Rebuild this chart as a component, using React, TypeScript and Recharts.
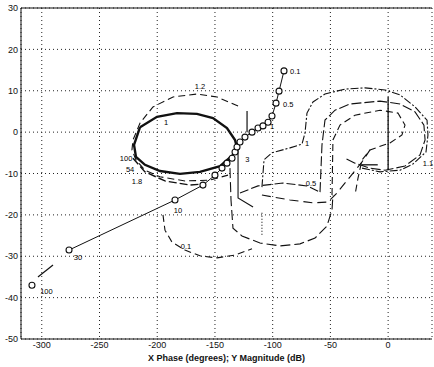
import { LineChart, Line, XAxis, YAxis, CartesianGrid, ReferenceLine, ReferenceDot } from "recharts";

// open-loop frequency response (phase deg, magnitude dB)
const mainStart = [{ x: -308.5, y: -37 }];
const mainStub = [
  { x: -303.3, y: -35 },
  { x: -290.3, y: -32.1 },
];
const mainCurve = [
  { x: -276.4, y: -28.5 },
  { x: -184.6, y: -16.4 },
  { x: -160.4, y: -12.8 },
  { x: -150, y: -10.4 },
  { x: -143.9, y: -8.7 },
  { x: -139.6, y: -7.5 },
  { x: -135.2, y: -6.3 },
  { x: -132.6, y: -4.8 },
  { x: -130.9, y: -3.6 },
  { x: -128.3, y: -2.4 },
  { x: -124, y: -1.2 },
  { x: -117.9, y: 0 },
  { x: -112.7, y: 1 },
  { x: -108.4, y: 1.5 },
  { x: -104, y: 2.4 },
  { x: -100.6, y: 3.9 },
  { x: -97.1, y: 7 },
  { x: -94.5, y: 9.9 },
  { x: -90.2, y: 14.8 },
];

// contour "1.2"
const gain12 = [
  { x: -130, y: 6.3 },
  { x: -148.2, y: 8.5 },
  { x: -165.6, y: 9.2 },
  { x: -186.3, y: 8.5 },
  { x: -203.7, y: 6.1 },
  { x: -214.9, y: 2.2 },
  { x: -221, y: -1.9 },
  { x: -221.9, y: -4.3 },
  { x: -218.4, y: -6.7 },
  { x: -210.6, y: -9.2 },
  { x: -197.6, y: -10.8 },
  { x: -176, y: -11.8 },
  { x: -154.3, y: -11.6 },
  { x: -138.7, y: -10.4 },
];

// contour "1" (thick)
const gain1 = [
  { x: -214.9, y: 1.2 },
  { x: -200.2, y: 3.7 },
  { x: -182.9, y: 4.6 },
  { x: -165.6, y: 4.4 },
  { x: -151.7, y: 3.4 },
  { x: -139.6, y: 1.0 },
  { x: -132.6, y: -1.9 },
  { x: -130.9, y: -3.8 },
  { x: -134.4, y: -5.5 },
  { x: -145.6, y: -8.2 },
  { x: -163, y: -9.6 },
  { x: -180.3, y: -10.1 },
  { x: -197.6, y: -9.4 },
  { x: -210.6, y: -7.9 },
  { x: -218.4, y: -6 },
  { x: -220.1, y: -3.1 },
  { x: -214.9, y: 1.2 },
];

const lowerLeft = [
  { x: -221, y: -6.3 },
  { x: -210.6, y: -9.6 },
  { x: -193.3, y: -11.8 },
  { x: -171.6, y: -12.8 },
  { x: -158.6, y: -12.5 },
];

// contour "0.1"
const gain01 = [
  { x: -195, y: -20 },
  { x: -193.3, y: -23.7 },
  { x: -187.2, y: -26.6 },
  { x: -176, y: -28.5 },
  { x: -163, y: -29.9 },
  { x: -148.2, y: -30.4 },
  { x: -132.6, y: -29.7 },
  { x: -117.9, y: -28.2 },
];

const dropLine = [
  { x: -130, y: -4.3 },
  { x: -130, y: -15.9 },
  { x: -117, y: -18.1 },
];

const lowLoop = [
  { x: -137, y: -8.7 },
  { x: -136.1, y: -16.4 },
  { x: -134.4, y: -23.2 },
  { x: -126.6, y: -25.1 },
  { x: -111, y: -26.8 },
  { x: -93.7, y: -27.5 },
  { x: -76.3, y: -27 },
  { x: -63.3, y: -25.6 },
  { x: -53, y: -22.7 },
  { x: -48.6, y: -18.8 },
  { x: -47.8, y: -15.2 },
];

// contour "0.5"
const gain05Top = [
  { x: -128.3, y: -14.7 },
  { x: -112.7, y: -13 },
  { x: -91.1, y: -12.3 },
  { x: -70.3, y: -13 },
  { x: -59, y: -14.5 },
];
const gain05Low = [
  { x: -109.3, y: -15.2 },
  { x: -85, y: -16.4 },
  { x: -65.1, y: -17.1 },
  { x: -52.1, y: -16.9 },
  { x: -44.3, y: -14.7 },
  { x: -33, y: -10.8 },
  { x: -22.6, y: -7.2 },
  { x: -15.7, y: -4.3 },
];

// right side loops
const rightOuter = [
  { x: -109.3, y: -13.3 },
  { x: -107.5, y: -6.7 },
  { x: -100.6, y: -5 },
  { x: -85, y: -3.8 },
  { x: -74.6, y: -2.9 },
  { x: -72, y: -0.2 },
  { x: -70.3, y: 4.6 },
  { x: -65.1, y: 7.3 },
  { x: -54.7, y: 9.2 },
  { x: -37.4, y: 10.4 },
  { x: -20, y: 10.7 },
  { x: -2.7, y: 10.2 },
  { x: 10.3, y: 9 },
  { x: 23.3, y: 6.1 },
  { x: 33.7, y: 2.9 },
  { x: 34.5, y: -0.7 },
  { x: 32.8, y: -4.8 },
  { x: 21.5, y: -7.7 },
  { x: 10.3, y: -9.2 },
  { x: -7, y: -9.6 },
  { x: -22.6, y: -8.7 },
];
const rightMid = [
  { x: -59, y: -14.5 },
  { x: -57.3, y: -3.1 },
  { x: -54.7, y: 2.9 },
  { x: -46, y: 5.3 },
  { x: -33, y: 6.8 },
  { x: -7, y: 7.5 },
  { x: 10.3, y: 6.8 },
  { x: 23.3, y: 4.9 },
  { x: 31, y: 1.7 },
  { x: 32, y: -1.9 },
  { x: 27.6, y: -5.5 },
  { x: 14.6, y: -8.2 },
  { x: -2.7, y: -9.2 },
  { x: -15.7, y: -8.7 },
  { x: -28.7, y: -7.5 },
  { x: -37.4, y: -6.3 },
];
const rightInner = [
  { x: -48.6, y: -15.2 },
  { x: -47.8, y: -1.9 },
  { x: -41.7, y: 1.7 },
  { x: -28.7, y: 4.1 },
  { x: -7, y: 5.3 },
  { x: 8.5, y: 4.6 },
  { x: 14.6, y: 1.7 },
  { x: 12, y: -0.7 },
  { x: 1.6, y: -2.6 },
  { x: -15.7, y: -4.3 },
  { x: -22.6, y: -6.7 },
  { x: -26.1, y: -11.1 },
  { x: -28.7, y: -15.2 },
];

const zeroBar = [
  { x: 0, y: 8.5 },
  { x: 0, y: -9.2 },
];
const crossBar = [
  { x: -23, y: -7.9 },
  { x: -9, y: -7.9 },
];
const shortBar = [
  { x: -122.2, y: 5.1 },
  { x: -122.2, y: 0 },
];
const dottedBar = [
  { x: -109.3, y: -19.5 },
  { x: -109.3, y: -25.3 },
];

const labels = [
  { x: -296, y: -38.4, text: "100" },
  { x: -268.6, y: -30.2, text: "30" },
  { x: -182, y: -18.8, text: "10" },
  { x: -122, y: -6.7, text: "3" },
  { x: -100.6, y: 1.5, text: "1" },
  { x: -86.5, y: 6.8, text: "0.5" },
  { x: -80.5, y: 14.8, text: "0.1" },
  { x: -163, y: 11.1, text: "1.2" },
  { x: -192.4, y: 2.4, text: "1" },
  { x: -227, y: -6.3, text: "100" },
  { x: -223.5, y: -9.1, text: "54" },
  { x: -217.5, y: -11.9, text: "1.8" },
  { x: -175.1, y: -27.5, text: "0.1" },
  { x: -66.8, y: -12.3, text: "0.5" },
  { x: -70.3, y: -2.6, text: "1" },
  { x: 34.5, y: -7.5, text: "1.1" },
];

const xTicks = [-300, -250, -200, -150, -100, -50, 0];
const yTicks = [-50, -40, -30, -20, -10, 0, 10, 20, 30];

const ink = "#111";
const font = "'Liberation Sans', Arial, sans-serif";

export default function App() {
  const line = (data: { x: number; y: number }[], key: string, dash?: string, width = 1.1) => (
    <Line
      key={key}
      data={data}
      dataKey="y"
      type="linear"
      stroke={ink}
      strokeWidth={width}
      strokeDasharray={dash}
      dot={false}
      activeDot={false}
      isAnimationActive={false}
    />
  );

  return (
    <div style={{ position: "absolute", left: 0, top: 0, background: "#fff" }}>
      <LineChart width={434} height={367} margin={{ top: 8, right: 2, left: 0, bottom: 0 }}>
        <CartesianGrid stroke="#222" strokeDasharray="1 3" />
        <XAxis
          dataKey="x"
          type="number"
          domain={[-318, 38]}
          ticks={xTicks}
          allowDataOverflow
          height={28}
          tickLine={false}
          tickSize={2}
          tickMargin={1}
          stroke={ink}
          tick={{ fontSize: 9, fill: ink, fontFamily: font }}
          label={{
            value: "X Phase (degrees); Y Magnitude (dB)",
            position: "insideBottom",
            offset: 6,
            style: { fontSize: 9, fill: ink, fontFamily: font, fontWeight: 600 },
          }}
        />
        <YAxis
          type="number"
          domain={[-50, 30]}
          ticks={yTicks}
          allowDataOverflow
          width={21}
          tickLine={false}
          tickSize={0}
          tickMargin={3}
          stroke={ink}
          tick={{ fontSize: 9, fill: ink, fontFamily: font }}
        />
        <ReferenceLine y={30} stroke={ink} strokeWidth={1.2} />
        {line(gain12, "g12", "7 4")}
        {line(gain1, "g1", undefined, 2.4)}
        {line(lowerLeft, "ll", "8 3", 1.4)}
        {line(gain01, "g01", "7 4")}
        {line(dropLine, "drop")}
        {line(lowLoop, "low", "10 4")}
        {line(gain05Top, "g05t", "9 3")}
        {line(gain05Low, "g05l", "9 5")}
        {line(rightOuter, "ro", "8 2 2 2")}
        {line(rightMid, "rm", "10 3")}
        {line(rightInner, "ri", "7 4")}
        {line(zeroBar, "zb", undefined, 1.3)}
        {line(crossBar, "cb", undefined, 1.3)}
        {line(shortBar, "sb", undefined, 1.2)}
        {line(dottedBar, "db", "1 2")}
        {line(mainStub, "stub", undefined, 1.2)}
        <Line
          data={mainCurve}
          dataKey="y"
          type="linear"
          stroke={ink}
          strokeWidth={1}
          dot={{ r: 3, fill: "#fff", stroke: ink, strokeWidth: 1.1 }}
          activeDot={false}
          isAnimationActive={false}
        />
        <Line
          data={mainStart}
          dataKey="y"
          type="linear"
          stroke={ink}
          dot={{ r: 3, fill: "#fff", stroke: ink, strokeWidth: 1.1 }}
          activeDot={false}
          isAnimationActive={false}
        />
        {labels.map((l, i) => (
          <ReferenceDot
            key={i}
            x={l.x}
            y={l.y}
            r={0}
            stroke="none"
            fill="none"
            label={(props: any) => {
              const vb = props.viewBox || {};
              const cx = vb.x + (vb.width || 0) / 2;
              const cy = vb.y + (vb.height || 0) / 2;
              return (
                <text
                  x={cx}
                  y={cy}
                  dy="0.35em"
                  textAnchor="middle"
                  fill="#000"
                  stroke="none"
                  fontSize={7.5}
                  fontFamily={font}
                >
                  {l.text}
                </text>
              );
            }}
          />
        ))}
      </LineChart>
    </div>
  );
}
